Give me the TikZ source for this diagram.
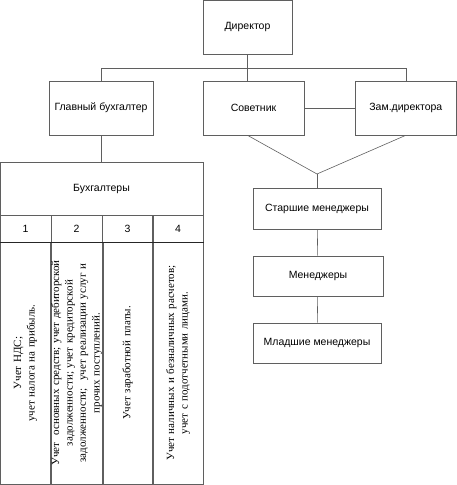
\documentclass[tikz,border=0pt]{standalone}
\usepackage{fontspec}
\setmainfont{Liberation Serif}
\setsansfont{Liberation Sans}
\usetikzlibrary{positioning, calc}
\definecolor{lncol}{RGB}{95,95,95}
\tikzset{
    postbox/.style={rectangle, draw=lncol, line width=0.6pt, align=center, inner sep=2pt, font=\sffamily\fontsize{10.5}{12}\selectfont},
    numcell/.style={rectangle, draw=lncol, line width=0.6pt, minimum width=51pt, minimum height=27pt, font=\sffamily\fontsize{10.5}{12}\selectfont},
    dutycell/.style={rectangle, draw=lncol, line width=0.6pt, rotate=90, minimum width=242pt, minimum height=51pt, text width=230pt, align=center, inner sep=1pt, font=\rmfamily\fontsize{11}{13.5}\selectfont},
    link/.style={draw=lncol, line width=0.6pt}
}

\begin{document}
\begin{tikzpicture}[x=1pt, y=-1pt]
    \useasboundingbox (0,0) rectangle (457,485);

    % руководство
    \node[postbox, minimum width=89pt, minimum height=54pt] (dir) at (247.5,27) {Директор};
    \node[postbox, minimum width=104pt, minimum height=54pt] (gb) at (101,108) {Главный бухгалтер};
    \node[postbox, minimum width=101pt, minimum height=54pt] (sov) at (253.5,108) {Советник};
    \node[postbox, minimum width=101pt, minimum height=54pt] (zam) at (405.8,108) {Зам.директора};

    % менеджеры
    \node[postbox, minimum width=128pt, minimum height=41pt] (st) at (317,208.5) {Старшие менеджеры};
    \node[postbox, minimum width=130pt, minimum height=40pt] (men) at (318,276) {Менеджеры};
    \node[postbox, minimum width=128pt, minimum height=40pt] (ml) at (317,343) {Младшие менеджеры};

    % бухгалтерия
    \node[postbox, minimum width=203pt, minimum height=53pt] (buh) at (101.5,188.5) {Бухгалтеры};
    \node[numcell] (n1) at (25.5,228.5) {1};
    \node[numcell] (n2) at (76.5,228.5) {2};
    \node[numcell] (n3) at (127.5,228.5) {3};
    \node[numcell] (n4) at (178,228.5) {4};
    \node[dutycell] (d1) at (25.5,363) {Учет НДС;\\учет налога на прибыль.};
    \node[dutycell] (d2) at (76.5,363) {Учет~ основных средств; учет дебиторской\\задолженности; учет кредиторской\\задолженности;~ учет реализации услуг и\\прочих поступлений.};
    \node[dutycell] (d3) at (127.5,363) {Учет заработной платы.};
    \node[dutycell] (d4) at (178,363) {Учет наличных и безналичных расчетов;\\учет с подотчетными лицами.};
    \draw[line width=1pt, black!85] (n1.south west) -- (n4.south east);

    % связи
    \coordinate (bus) at (0,68);
    \coordinate (conv) at (317,174);
    \draw[link] (dir.south) -- (dir.south |- sov.north);
    \draw[link] (gb.north) -- (gb.north |- bus) -- (zam.north |- bus) -- (zam.north);
    \draw[link] (sov.east) -- (zam.west);
    \draw[link] (dir.south |- sov.south) -- (conv) -- (zam.south);
    \draw[link] (conv) -- (st.north);
    \draw[link] (st) -- (men);
    \draw[link] (men) -- (ml);
    \draw[link] (gb.south) -- (gb.south |- buh.north);
\end{tikzpicture}
\end{document}
